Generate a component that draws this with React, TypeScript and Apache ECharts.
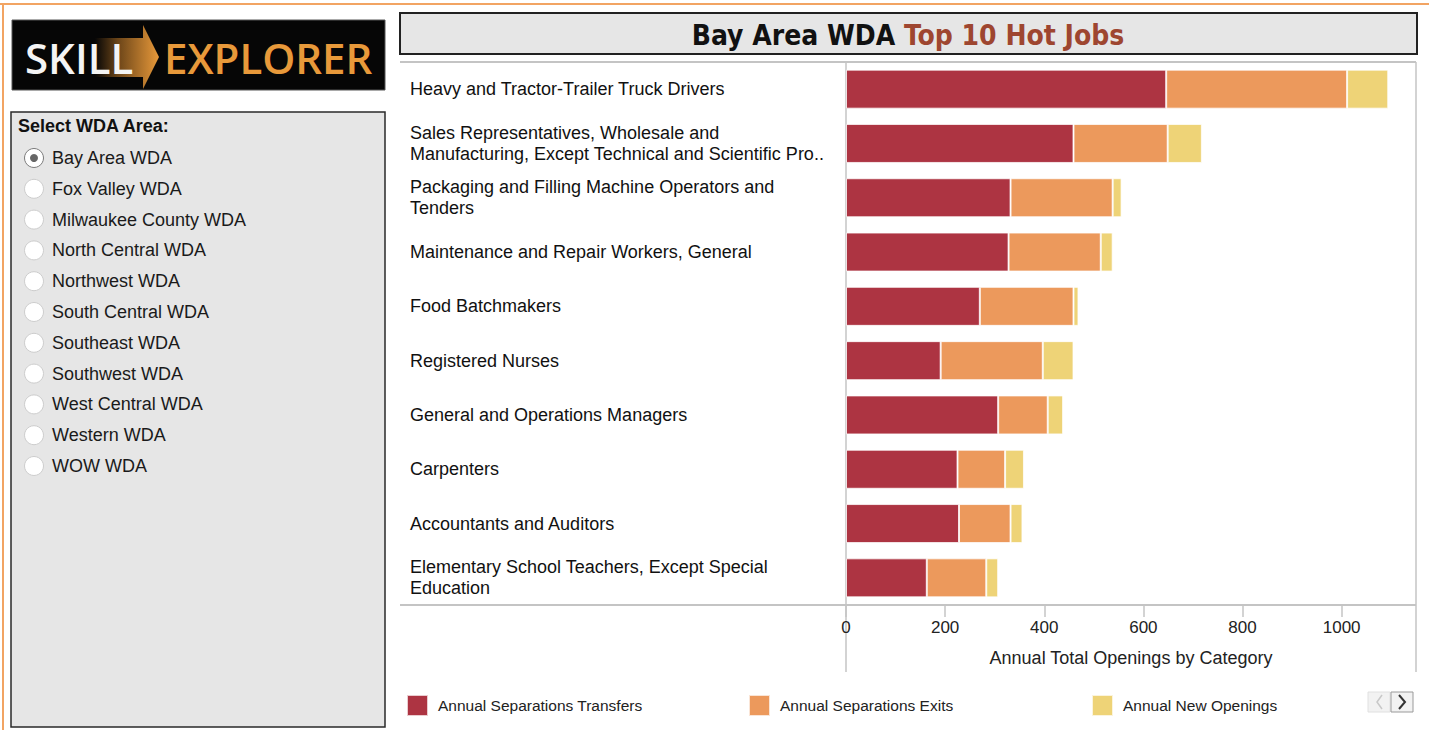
import React, { useEffect, useRef } from "react";
import * as echarts from "echarts";

const categories = [
  "Heavy and Tractor-Trailer Truck Drivers",
  "Sales Representatives, Wholesale and\nManufacturing, Except Technical and Scientific Pro..",
  "Packaging and Filling Machine Operators and\nTenders",
  "Maintenance and Repair Workers, General",
  "Food Batchmakers",
  "Registered Nurses",
  "General and Operations Managers",
  "Carpenters",
  "Accountants and Auditors",
  "Elementary School Teachers, Except Special\nEducation",
];
const transfers = [646, 459, 332, 328, 270, 191, 307, 225, 228, 163];
const exits = [365, 190, 206, 186, 189, 206, 100, 96, 104, 120];
const newOpenings = [83, 69, 18, 24, 10, 62, 31, 38, 24, 24];
const seriesNames = [
  "Annual Separations Transfers",
  "Annual Separations Exits",
  "Annual New Openings",
];
const seriesColors = ["#ad3442", "#ec995c", "#eed377"];
const areas = [
  "Bay Area WDA",
  "Fox Valley WDA",
  "Milwaukee County WDA",
  "North Central WDA",
  "Northwest WDA",
  "South Central WDA",
  "Southeast WDA",
  "Southwest WDA",
  "West Central WDA",
  "Western WDA",
  "WOW WDA",
];
const selectedArea = "Bay Area WDA";

const FONT = "Liberation Sans, Arial, Helvetica, sans-serif";
const TITLE_FONT = "bold 28px 'DejaVu Sans Condensed', 'DejaVu Sans', sans-serif";

export default function App() {
  const ref = useRef<HTMLDivElement>(null);
  useEffect(() => {
    if (!ref.current) return;
    const chart = echarts.init(ref.current, undefined, { renderer: "svg" });
    const lineColor = "#c4c4c4";
    const graphics: any[] = [
      // orange frame
      { type: "line", shape: { x1: 0, y1: 4, x2: 1429, y2: 4 }, style: { stroke: "#f2a463", lineWidth: 2 } },
      { type: "line", shape: { x1: 3, y1: 4, x2: 3, y2: 730 }, style: { stroke: "#f2a463", lineWidth: 2 } },
      // logo
      { type: "rect", shape: { x: 12, y: 20, width: 373, height: 70 }, style: { fill: "#060606", stroke: "#555", lineWidth: 1 } },
      {
        type: "polygon",
        shape: { points: [[95, 38], [143, 38], [143, 25], [159, 57], [143, 89], [143, 77], [95, 77]] },
        style: {
          fill: new echarts.graphic.LinearGradient(0, 0, 1, 0, [
            { offset: 0, color: "rgba(6,6,6,1)" },
            { offset: 0.35, color: "#6a4418" },
            { offset: 1, color: "#e8993a" },
          ]),
        },
      },
      { type: "text", x: 25, y: 57, style: { text: "SKILL", fill: "#f4f4f4", font: "600 42px 'Open Sans', sans-serif", verticalAlign: "middle" } },
      { type: "text", x: 164, y: 57, style: { text: "EXPLORER", fill: "#e8993a", font: "600 42px 'Open Sans', sans-serif", verticalAlign: "middle" } },
      // left panel
      { type: "rect", shape: { x: 11, y: 112, width: 374, height: 615 }, style: { fill: "#e6e6e6", stroke: "#2a2a2a", lineWidth: 1.5 } },
      { type: "text", x: 18, y: 126, style: { text: "Select WDA Area:", fill: "#111", font: `bold 18px ${FONT}`, verticalAlign: "middle" } },
      // title box
      { type: "rect", shape: { x: 400, y: 13, width: 1017, height: 41 }, style: { fill: "#e6e6e6", stroke: "#222", lineWidth: 2 } },
      {
        type: "text",
        x: 908,
        y: 35,
        style: {
          text: "{a|Bay Area WDA }{b|Top 10 Hot Jobs}",
          align: "center",
          verticalAlign: "middle",
          rich: {
            a: { fill: "#111", font: TITLE_FONT },
            b: { fill: "#9e4630", font: TITLE_FONT },
          },
        },
      },
      // chart frame lines
      { type: "line", shape: { x1: 400, y1: 62, x2: 1416, y2: 62 }, style: { stroke: lineColor, lineWidth: 2 } },
      { type: "line", shape: { x1: 1416, y1: 62, x2: 1416, y2: 672 }, style: { stroke: lineColor, lineWidth: 1.5 } },
      { type: "line", shape: { x1: 400, y1: 605, x2: 1416, y2: 605 }, style: { stroke: lineColor, lineWidth: 2 } },
      { type: "line", shape: { x1: 846, y1: 62, x2: 846, y2: 672 }, style: { stroke: lineColor, lineWidth: 1.5 } },
      // legend scroll arrows
      { type: "rect", shape: { x: 1368, y: 692, width: 22, height: 20 }, style: { fill: "#f2f2f2", stroke: "#e0e0e0", lineWidth: 1 } },
      { type: "rect", shape: { x: 1391, y: 692, width: 22, height: 20 }, style: { fill: "#f2f2f2", stroke: "#9a9a9a", lineWidth: 1 } },
      { type: "polyline", shape: { points: [[1382, 695], [1377, 702], [1382, 709]] }, style: { stroke: "#c8c8c8", lineWidth: 1.5, fill: "none" } },
      { type: "polyline", shape: { points: [[1399, 695], [1405, 702], [1399, 709]] }, style: { stroke: "#333", lineWidth: 2, fill: "none" } },
    ];
    areas.forEach((name, i) => {
      const cy = 158 + i * 30.8;
      const sel = name === selectedArea;
      graphics.push({
        type: "circle",
        shape: { cx: 34, cy, r: 9.5 },
        style: { fill: "#ffffff", stroke: sel ? "#7a7a7a" : "#cdcdcd", lineWidth: 1 },
      });
      if (sel) {
        graphics.push({ type: "circle", shape: { cx: 34, cy, r: 4 }, style: { fill: "#666" } });
      }
      graphics.push({
        type: "text",
        x: 52,
        y: cy,
        style: { text: name, fill: "#1a1a1a", font: `18px ${FONT}`, verticalAlign: "middle" },
      });
    });

    const legendLefts = [406, 748, 1091];
    const dataArrays = [transfers, exits, newOpenings];

    chart.setOption({
      animation: false,
      graphic: graphics,
      legend: seriesNames.map((n, i) => ({
        data: [n],
        left: legendLefts[i],
        top: 694,
        padding: 0,
        icon: "rect",
        itemWidth: 21,
        itemHeight: 21,
        itemGap: 0,
        selectedMode: false,
        textStyle: { fontSize: 15.5, color: "#222", fontFamily: FONT, padding: [5, 0, 0, 5] },
      })),
      grid: { left: 846, right: 13, top: 62, bottom: 125, containLabel: false },
      xAxis: {
        type: "value",
        min: 0,
        max: 1150,
        interval: 200,
        splitLine: { show: false },
        axisLine: { show: false },
        axisTick: { show: true, length: 12, lineStyle: { color: lineColor, width: 1.5 } },
        axisLabel: {
          showMaxLabel: false,
          margin: 14,
          fontSize: 17,
          color: "#222",
          fontFamily: FONT,
          formatter: (v: number) => String(v),
        },
        name: "Annual Total Openings by Category",
        nameLocation: "middle",
        nameGap: 44,
        nameTextStyle: { fontSize: 18, color: "#222", fontFamily: FONT, verticalAlign: "top" },
      },
      yAxis: {
        type: "category",
        inverse: true,
        data: categories,
        axisLine: { show: false },
        axisTick: { show: false },
        axisLabel: {
          align: "left",
          margin: 436,
          fontSize: 18,
          lineHeight: 21,
          color: "#111",
          fontFamily: FONT,
        },
      },
      series: seriesNames.map((n, i) => ({
        name: n,
        type: "bar",
        stack: "total",
        barWidth: 39,
        data: dataArrays[i],
        itemStyle: {
          color: seriesColors[i],
          borderColor: "rgba(255,255,255,0.75)",
          borderWidth: 1,
        },
      })),
    });
    return () => chart.dispose();
  }, []);
  return (
    <div
      ref={ref}
      style={{ position: "fixed", left: 0, top: 0, width: 1429, height: 730, background: "#fff" }}
    />
  );
}
